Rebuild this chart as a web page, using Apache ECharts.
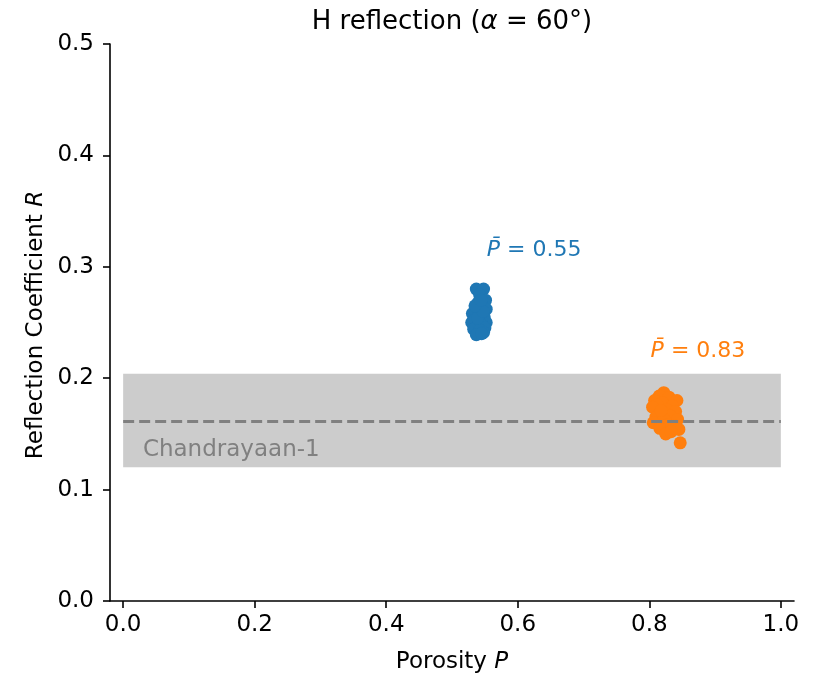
<!DOCTYPE html>
<html>
<head>
<meta charset="utf-8">
<title>H reflection</title>
<script src="https://cdn.jsdelivr.net/npm/echarts@6/dist/echarts.min.js"></script>
<style>
  html, body { margin: 0; padding: 0; background: #ffffff; }
  #chart { width: 813px; height: 676px; }
</style>
</head>
<body>
<div id="chart"></div>
<script>
// Simulated reflection coefficients for two porosity groups
const bluePorosity = [0.537, 0.548, 0.542, 0.551, 0.540, 0.546, 0.552, 0.536, 0.531, 0.543,
                      0.549, 0.533, 0.540, 0.552, 0.530, 0.545, 0.537, 0.550, 0.533, 0.542,
                      0.548, 0.537, 0.545, 0.539, 0.547, 0.535, 0.544];
const blueR        = [0.280, 0.280, 0.275, 0.270, 0.268, 0.265, 0.262, 0.260, 0.258, 0.257,
                      0.255, 0.252, 0.250, 0.250, 0.250, 0.248, 0.246, 0.245, 0.244, 0.243,
                      0.241, 0.239, 0.240, 0.254, 0.260, 0.265, 0.270];

const orangePorosity = [0.822, 0.815, 0.830, 0.808, 0.842, 0.820, 0.812, 0.835, 0.805, 0.826,
                        0.840, 0.815, 0.832, 0.810, 0.822, 0.843, 0.806, 0.828, 0.838, 0.816,
                        0.845, 0.825, 0.847, 0.833, 0.818];
const orangeR        = [0.187, 0.184, 0.183, 0.180, 0.180, 0.178, 0.176, 0.175, 0.174, 0.172,
                        0.170, 0.168, 0.166, 0.165, 0.163, 0.163, 0.160, 0.158, 0.157, 0.155,
                        0.154, 0.150, 0.142, 0.152, 0.171];

// Chandrayaan-1 measurement: mean and range
const chandrayaanMean = 0.161;
const chandrayaanRange = [0.120, 0.204];

// Mean-porosity annotations
const meanLabels = ['0.55', '0.83'];
const meanLabelPos = [[0.553, 0.315], [0.802, 0.2245]];

const xTicks = [0.0, 0.2, 0.4, 0.6, 0.8, 1.0];

const BLUE = '#1f77b4';
const ORANGE = '#ff7f0e';
const FONT = 'DejaVu Sans';
const LABEL_SIZE = 23;

const zip = (xs, ys) => xs.map((x, i) => [x, ys[i]]);

const chart = echarts.init(document.getElementById('chart'), null, { renderer: 'canvas' });

const axisCommon = {
  type: 'value',
  splitLine: { show: false },
  axisLine: { show: true, onZero: false, lineStyle: { color: '#000', width: 1.6 } },
  axisTick: { show: true, inside: false, length: 7, lineStyle: { color: '#000', width: 1.6 } },
  axisLabel: { color: '#000', fontFamily: FONT, fontSize: LABEL_SIZE }
};

const option = {
  animation: false,
  backgroundColor: '#ffffff',
  grid: { left: 110, right: 19, top: 44, bottom: 75, containLabel: false },
  xAxis: Object.assign({}, axisCommon, {
    min: -0.02, max: 1.02,
    axisTick: Object.assign({}, axisCommon.axisTick, { customValues: xTicks }),
    axisLabel: Object.assign({}, axisCommon.axisLabel, {
      customValues: xTicks, margin: 13,
      formatter: v => v.toFixed(1)
    })
  }),
  yAxis: Object.assign({}, axisCommon, {
    min: 0, max: 0.5, interval: 0.1,
    axisLabel: Object.assign({}, axisCommon.axisLabel, {
      margin: 16,
      formatter: v => v.toFixed(1)
    })
  }),
  graphic: [
    {
      type: 'text', x: 452, y: 22, z: 10,
      style: {
        text: '{n|H reflection (}{i|α}{n| = 60°)}',
        align: 'center', verticalAlign: 'middle',
        rich: {
          n: { fontFamily: FONT, fontSize: 26, fill: '#000' },
          i: { fontFamily: FONT, fontSize: 26, fontStyle: 'italic', fill: '#000' }
        }
      }
    },
    {
      type: 'text', x: 452, y: 662, z: 10,
      style: {
        text: '{n|Porosity }{i|P}',
        align: 'center', verticalAlign: 'middle',
        rich: {
          n: { fontFamily: FONT, fontSize: LABEL_SIZE, fill: '#000' },
          i: { fontFamily: FONT, fontSize: LABEL_SIZE, fontStyle: 'italic', fill: '#000' }
        }
      }
    },
    {
      type: 'text', x: 36, y: 325, rotation: Math.PI / 2, z: 10,
      style: {
        text: '{n|Reflection Coefficient }{i|R}',
        align: 'center', verticalAlign: 'middle',
        rich: {
          n: { fontFamily: FONT, fontSize: LABEL_SIZE, fill: '#000' },
          i: { fontFamily: FONT, fontSize: LABEL_SIZE, fontStyle: 'italic', fill: '#000' }
        }
      }
    }
  ],
  series: [
    {
      // Chandrayaan-1 band, mean line and label
      type: 'scatter',
      z: 1,
      symbolSize: 0,
      silent: true,
      itemStyle: { opacity: 1 },
      data: [[0.03, 0.1355]],
      label: {
        show: true, position: [0, 0], align: 'left', verticalAlign: 'middle',
        formatter: 'Chandrayaan-1',
        fontFamily: FONT, fontSize: LABEL_SIZE, color: '#808080'
      },
      markArea: {
        silent: true,
        itemStyle: { color: '#cccccc', opacity: 1 },
        data: [[{ xAxis: 0, yAxis: chandrayaanRange[0] }, { xAxis: 1, yAxis: chandrayaanRange[1] }]]
      },
      markLine: {
        silent: true,
        symbol: 'none',
        label: { show: false },
        lineStyle: { color: '#808080', width: 3, type: [11, 5], opacity: 1 },
        data: [[{ coord: [0, chandrayaanMean] }, { coord: [1, chandrayaanMean] }]]
      }
    },
    {
      type: 'scatter', z: 3, symbolSize: 13,
      itemStyle: { color: BLUE, opacity: 1 },
      data: zip(bluePorosity, blueR)
    },
    {
      type: 'scatter', z: 3, symbolSize: 13,
      itemStyle: { color: ORANGE, opacity: 1 },
      data: zip(orangePorosity, orangeR)
    },
    {
      // mean porosity annotations
      type: 'scatter', z: 4, symbolSize: 0, silent: true,
      itemStyle: { opacity: 1 },
      data: meanLabelPos.map((p, i) => ({
        value: p,
        label: {
          show: true, position: [0, 0], align: 'left', verticalAlign: 'middle',
          formatter: '{i|P\u0304}{n| = ' + meanLabels[i] + '}',
          rich: {
            i: { fontFamily: FONT, fontSize: 22, fontStyle: 'italic', color: i === 0 ? BLUE : ORANGE },
            n: { fontFamily: FONT, fontSize: 22, color: i === 0 ? BLUE : ORANGE }
          }
        }
      }))
    }
  ]
};

chart.setOption(option);
</script>
</body>
</html>
